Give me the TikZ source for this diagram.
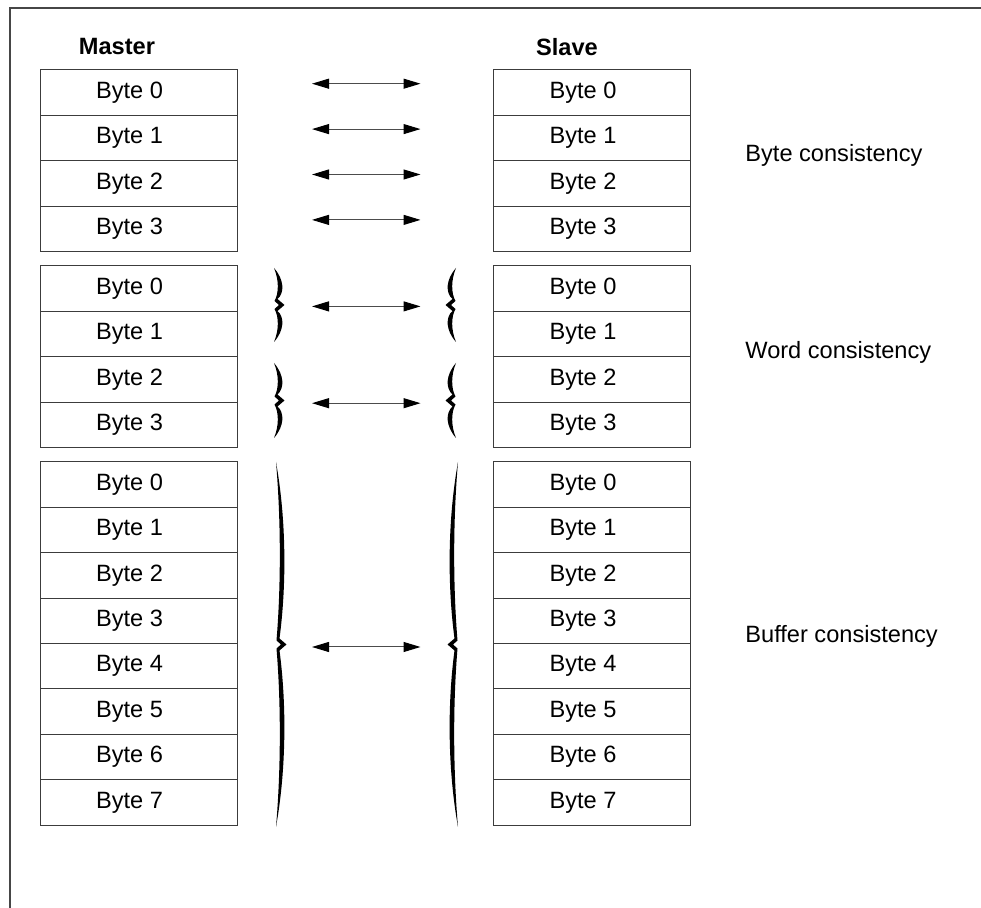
\documentclass[tikz,border=0pt]{standalone}
\usepackage{fontspec}
\setmainfont{Liberation Sans}
\usetikzlibrary{arrows.meta}
\definecolor{FrameGrey}{RGB}{70,70,70}
\definecolor{CellLine}{RGB}{60,60,60}
% hand drawn curly bracket: #1 x of ends, #2 top y, #3 bottom y, #4 side of the tip (1 right, -1 left)
\newcommand{\swirl}[4]{%
  \pgfmathsetmacro{\ym}{(#2+#3)/2}
  \pgfmathsetmacro{\q}{(#3-#2)*0.16}
  \fill[black]
    (#1,#2) .. controls ({#1+(#4)*10.5},{#2+\q}) and ({#1+(#4)*10.5},{\ym-\q}) .. ({#1+(#4)*3.5},{\ym-6})
    -- ({#1+(#4)*10.5},\ym)
    -- ({#1+(#4)*3.5},{\ym+6}) .. controls ({#1+(#4)*10.5},{\ym+\q}) and ({#1+(#4)*10.5},{#3-\q}) .. (#1,#3)
    .. controls ({#1+(#4)*5},{#3-\q}) and ({#1+(#4)*5},{\ym+\q}) .. ({#1+(#4)*0.5},{\ym+4})
    -- ({#1+(#4)*5},\ym)
    -- ({#1+(#4)*0.5},{\ym-4}) .. controls ({#1+(#4)*5},{\ym-\q}) and ({#1+(#4)*5},{#2+\q}) .. (#1,#2)
    -- cycle;
}

\begin{document}
\begin{tikzpicture}[
    x=0.5pt,
    y=-0.5pt,
    font=\fontsize{11.8}{14}\selectfont,
    cell/.style={draw=CellLine, line width=0.5pt, minimum width=98.5pt,
      minimum height=22.7pt, inner sep=0pt, outer sep=0pt},
    celltext/.style={xshift=-4.5pt},
    grouplabel/.style={anchor=west, inner sep=0pt},
    link/.style={{Triangle[length=8.5pt,width=5pt,color=black]}-{Triangle[length=8.5pt,width=5pt,color=black]},
      line width=0.5pt, draw=black!70,
      shorten <=37.5pt, shorten >=36.5pt}
]
\useasboundingbox (0,0) rectangle (981,908);

% frame, cut off at the right and bottom
\draw[FrameGrey, line width=1pt] (10,908) -- (10,8) -- (981,8);

% column headers
\node[font=\fontsize{11.8}{14}\selectfont\bfseries] (master) at (117,47) {Master};
\node[font=\fontsize{11.8}{14}\selectfont\bfseries] (slave) at (567,47) {Slave};

% byte cells of the three groups
\foreach \g/\top/\last in {1/70/3, 2/266/3, 3/462/7}{
  \foreach \i in {0,...,\last}{
    \pgfmathsetmacro{\y}{\top + (\i+0.5)*45.4}
    \node[cell, label={[celltext]center:Byte \i}] (m\g-\i) at (138.5,\y) {};
    \node[cell, label={[celltext]center:Byte \i}] (s\g-\i) at (592,\y) {};
  }
}

% Group 1: byte consistency
\foreach \i in {0,...,3}{
  \draw[link] ([yshift=4.5pt]m1-\i.east) -- ([yshift=4.5pt]s1-\i.west);
}
\node[grouplabel] (bytecons) at (745,155) {Byte consistency};

% Group 2: word consistency
\draw[link] ([yshift=2.5pt]m2-0.south east) -- ([yshift=2.5pt]s2-0.south west);
\draw[link] ([yshift=-0.5pt]m2-2.south east) -- ([yshift=-0.5pt]s2-2.south west);
\swirl{274}{268}{342}{1}
\swirl{274}{363}{438}{1}
\swirl{456}{268}{342}{-1}
\swirl{456}{363}{438}{-1}
\node[grouplabel] (wordcons) at (745,352) {Word consistency};

% Group 3: buffer consistency
\draw[link] ([yshift=-1.7pt]m3-3.south east) -- ([yshift=-1.7pt]s3-3.south west);
\swirl{276}{462}{827}{1}
\swirl{458}{462}{827}{-1}
\node[grouplabel] (bufcons) at (745,636) {Buffer consistency};

\end{tikzpicture}
\end{document}
